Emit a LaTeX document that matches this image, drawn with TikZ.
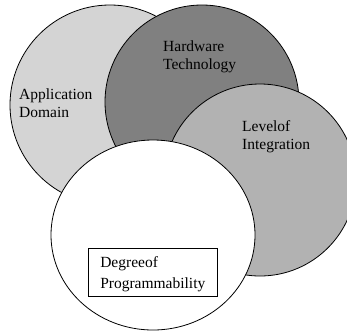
\documentclass[tikz,border=0pt]{standalone}
\usepackage{fontspec}
\setmainfont{Liberation Serif}
\usepackage{xcolor}
\usetikzlibrary{positioning}
\definecolor{lgray}{rgb}{0.83, 0.83, 0.83}
\definecolor{mgray}{rgb}{0.70, 0.70, 0.70}
\definecolor{dgray}{rgb}{0.50, 0.50, 0.50}
\tikzset{
	area/.style={draw, line width=0.8pt},
	areatext/.style={anchor=north west, inner sep=0pt, align=left, font=\fontsize{15.5}{18}\selectfont}
}

\begin{document}
\begin{tikzpicture}[x=1pt, y=-1pt]
	\useasboundingbox (0,0) rectangle (347,330);
	\clip (0,0) rectangle (347,330);

	% Areas
		\draw[area, fill=lgray] (110,105) circle [radius=100pt];
		\draw[area, fill=dgray] (202,102) circle [radius=97pt];
		\draw[area, fill=mgray] (260,180) circle [radius=96pt];
		\draw[area, fill=white] (153,235) ellipse [x radius=102pt, y radius=95pt];

	% Texts
		\node[areatext] (app) at (19,88.8) {Application\\Domain};
		\node[areatext] (hw) at (163,41) {Hardware\\Technology};
		\node[areatext] (lvl) at (242,120.5) {Levelof\\Integration};
		\node[draw, line width=0.6pt, anchor=north west, minimum width=129pt, minimum height=48pt,
			inner xsep=10.5pt, text depth=0pt, align=left, font=\fontsize{15.5}{21}\selectfont]
			(deg) at (88,248) {Degreeof\\Programmability};
\end{tikzpicture}
\end{document}
